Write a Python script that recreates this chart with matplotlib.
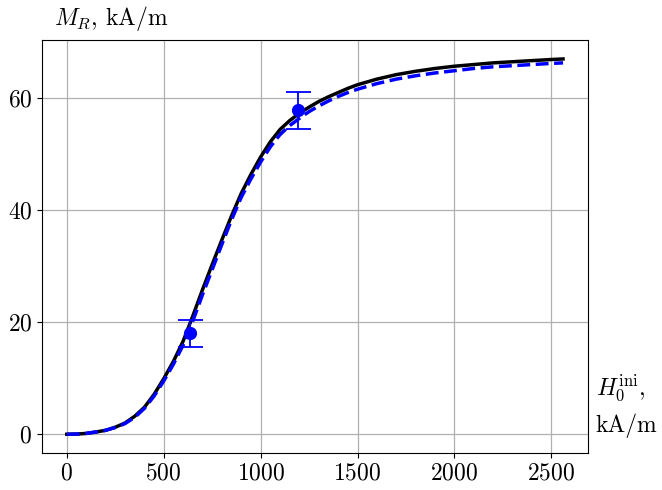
import matplotlib
matplotlib.use("Agg")
import matplotlib.pyplot as plt

plt.rcParams['mathtext.fontset'] = 'cm'
plt.rcParams['font.family'] = 'serif'
plt.rcParams['font.serif'] = ['cmr10', 'DejaVu Serif']
plt.rcParams['axes.unicode_minus'] = False

# Data
h_vals = [0, 50, 100, 150, 200, 250, 300, 350, 400, 450, 500, 550, 600, 650,
          700, 750, 800, 850, 900, 950, 1000, 1050, 1100, 1150, 1200, 1250,
          1300, 1350, 1400, 1450, 1500, 1600, 1700, 1800, 1900, 2000, 2100,
          2200, 2300, 2400, 2500, 2560]
m_black = [0, 0.03, 0.15, 0.4, 0.7, 1.25, 2.0, 3.2, 4.8, 7.1, 9.9, 13.0,
           16.6, 21.1, 25.8, 30.3, 34.7, 39.0, 43.0, 46.4, 49.5, 52.2, 54.4,
           56.0, 57.3, 58.4, 59.4, 60.25, 61.0, 61.75, 62.4, 63.4, 64.2, 64.8,
           65.3, 65.7, 66.0, 66.3, 66.5, 66.7, 66.9, 67.0]
m_blue = [0, 0.03, 0.15, 0.4, 0.7, 1.2, 1.9, 3.0, 4.6, 6.8, 9.5, 12.5, 15.9,
          20.2, 24.9, 29.4, 33.9, 38.3, 42.3, 45.6, 48.6, 51.3, 53.5, 55.1,
          56.4, 57.6, 58.6, 59.5, 60.3, 61.0, 61.6, 62.6, 63.4, 64.0, 64.5,
          64.9, 65.3, 65.6, 65.8, 66.0, 66.2, 66.3]
exp_h = [638, 1192]
exp_m = [18.0, 57.8]
exp_err = [2.45, 3.25]

xticks = [0, 500, 1000, 1500, 2000, 2500]
yticks = [0, 20, 40, 60]

fig = plt.figure(figsize=(6.62, 4.9), dpi=100)
ax = fig.add_axes([0.0634, 0.0755, 0.8246, 0.8425])

ax.plot(h_vals, m_black, color='black', lw=2.5, zorder=3)
ax.plot(h_vals, m_blue, color='blue', lw=2.5, ls='--', zorder=4)
ax.errorbar(exp_h, exp_m, yerr=exp_err, fmt='o', color='blue', ms=8.5,
            capsize=9, elinewidth=1.3, capthick=1.3, zorder=5)

ax.set_xticks(xticks)
ax.set_xticklabels([f'${t}$' for t in xticks], fontsize=17)
ax.set_yticks(yticks)
ax.set_yticklabels([f'${t}$' for t in yticks], fontsize=17)
ax.grid(True, color='#b0b0b0', lw=0.9)
ax.set_axisbelow(True)

fig.text(0.082, 0.963, r'$M_R$, kA/m', fontsize=17, ha='left', va='center')
fig.text(0.900, 0.208, r'$H_0^{\rm ini}$,', fontsize=17, ha='left', va='center')
fig.text(0.900, 0.132, r'kA/m', fontsize=17, ha='left', va='center')

fig.savefig('out.png', dpi=100)
